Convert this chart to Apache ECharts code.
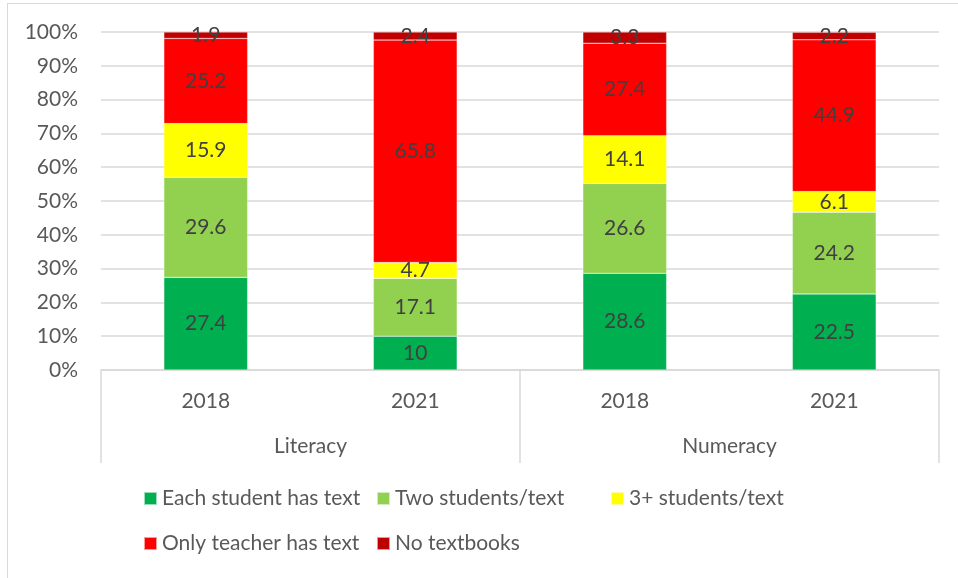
<!DOCTYPE html>
<html>
<head>
<meta charset="utf-8">
<script src="https://cdn.jsdelivr.net/npm/echarts@6/dist/echarts.min.js"></script>
<style>
  html, body { margin: 0; padding: 0; background: #fff; }
  #frame { position: absolute; left: 7px; top: 3px; width: 951px; height: 575px;
           border-left: 1.5px solid #d9d9d9; border-top: 1.5px solid #d9d9d9; }
  #main { position: absolute; left: 0; top: 0; width: 958px; height: 578px; }
</style>
</head>
<body>
<div id="frame"></div>
<div id="main"></div>
<script>
// categories
var years = ['2018', '2021', '2018', '2021'];
var groups = ['Literacy', 'Numeracy'];

// series values (Literacy 2018, Literacy 2021, Numeracy 2018, Numeracy 2021)
var eachStudent = [27.4, 10, 28.6, 22.5];
var twoStudents = [29.6, 17.1, 26.6, 24.2];
var threeStudents = [15.9, 4.7, 14.1, 6.1];
var onlyTeacher = [25.2, 65.8, 27.4, 44.9];
var noTextbooks = [1.9, 2.4, 3.3, 2.2];

var seriesNames = ['Each student has text', 'Two students/text', '3+ students/text',
                   'Only teacher has text', 'No textbooks'];
var seriesData = [eachStudent, twoStudents, threeStudents, onlyTeacher, noTextbooks];
var colors = ['#00B050', '#92D050', '#FFFF00', '#FF0000', '#C00000'];

var font = 'Lato';
var fs = 21;
var chart = echarts.init(document.getElementById('main'));

var series = seriesNames.map(function (name, i) {
    return {
        name: name,
        type: 'bar',
        stack: 'total',
        barWidth: '40%',
        data: seriesData[i],
        itemStyle: { color: colors[i], borderColor: 'rgba(255,255,255,0.6)', borderWidth: 0.5 },
        label: {
            show: true,
            position: 'inside',
            color: '#404040',
            fontFamily: font,
            fontSize: fs
        }
    };
});

// legend layout: three columns, two rows
var legendPos = [[143, 488], [376, 488], [610, 488], [143, 533], [376, 533]];
var legends = seriesNames.map(function (name, i) {
    return {
        data: [name],
        left: legendPos[i][0],
        top: legendPos[i][1],
        padding: 0,
        itemWidth: 13,
        itemHeight: 13,
        itemGap: 4,
        icon: 'rect',
        textStyle: { color: '#595959', fontFamily: font, fontSize: fs }
    };
});

chart.setOption({
    animation: false,
    color: colors,
    legend: legends,
    grid: { left: 101, right: 19, top: 32, bottom: 208 },
    xAxis: [{
        type: 'category',
        data: years,
        axisLine: { lineStyle: { color: '#d9d9d9', width: 1.5 } },
        axisTick: { show: false },
        axisLabel: { color: '#595959', fontFamily: font, fontSize: fs, margin: 21 }
    }, {
        type: 'category',
        data: groups,
        position: 'bottom',
        axisLine: { show: false },
        axisTick: { show: true, length: 93, lineStyle: { color: '#d9d9d9', width: 1.5 } },
        axisLabel: { color: '#595959', fontFamily: font, fontSize: fs, margin: 66 }
    }],
    yAxis: {
        type: 'value',
        min: 0,
        max: 100,
        interval: 10,
        axisLine: { show: false },
        axisTick: { show: false },
        splitLine: { lineStyle: { color: '#d9d9d9', width: 1.5 } },
        axisLabel: {
            color: '#595959', fontFamily: font, fontSize: fs, margin: 23,
            formatter: '{value}%'
        }
    },
    series: series
});
</script>
</body>
</html>
